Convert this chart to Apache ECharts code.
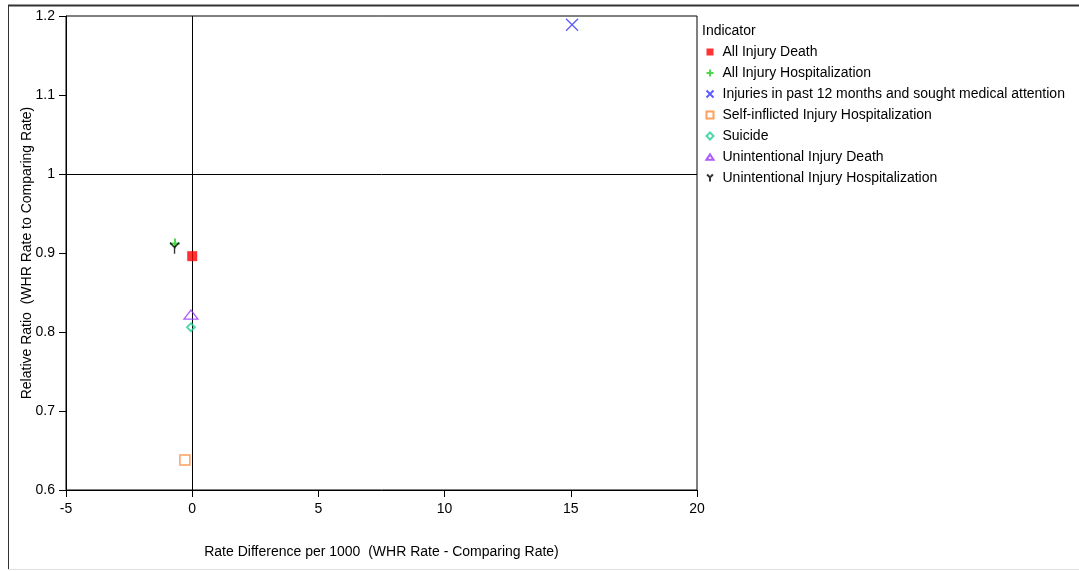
<!DOCTYPE html>
<html>
<head>
<meta charset="utf-8">
<script src="https://cdn.jsdelivr.net/npm/echarts@6/dist/echarts.min.js"></script>
<style>
  html, body { margin: 0; padding: 0; background: #fff; }
  #chart { width: 1079px; height: 571px; }
</style>
</head>
<body>
<div id="chart"></div>
<script>
// Indicators plotted: rate difference (x) against relative ratio (y)
const indicators = [
  'All Injury Death',
  'All Injury Hospitalization',
  'Injuries in past 12 months and sought medical attention',
  'Self-inflicted Injury Hospitalization',
  'Suicide',
  'Unintentional Injury Death',
  'Unintentional Injury Hospitalization'
];
const rateDifference = [0.0, -0.68, 15.05, -0.29, -0.05, -0.05, -0.7];
const relativeRatio = [0.896, 0.912, 1.189, 0.638, 0.806, 0.822, 0.906];

const xTicks = { min: -5, max: 20, interval: 5 };
const yTicks = { min: 0.6, max: 1.2, interval: 0.1 };
const refX = 0;
const refY = 1;

// Marker appearance per indicator
const markers = [
  { symbol: 'rect', size: 10, style: { color: '#ff0000' } },
  { symbol: 'path://M5,0L5,10M0,5L10,5', size: 10, style: { color: 'none', borderColor: '#22cc22', borderWidth: 2 } },
  { symbol: 'path://M0,0L10,10M10,0L0,10', size: 12, style: { color: 'none', borderColor: '#3333ff', borderWidth: 1.3 } },
  { symbol: 'rect', size: 10, style: { color: 'none', borderColor: '#ff8833', borderWidth: 1.5 } },
  { symbol: 'diamond', size: 8, style: { color: 'none', borderColor: '#22cc99', borderWidth: 1.8 } },
  { symbol: 'path://M0,9L6,0L12,9Z', size: [14, 9], style: { color: 'none', borderColor: '#9933ff', borderWidth: 1.3 } },
  { symbol: 'path://M0,0L5,5L10,0M5,5L5,12', size: [9, 11], style: { color: 'none', borderColor: '#000000', borderWidth: 1.5 } }
];

const series = indicators.map((name, i) => {
  const s = {
    name: name,
    type: 'scatter',
    symbol: markers[i].symbol,
    symbolSize: markers[i].size,
    itemStyle: markers[i].style,
    data: [[rateDifference[i], relativeRatio[i]]],
    z: 5
  };
  if (i === 0) {
    s.markLine = {
      silent: true,
      symbol: 'none',
      label: { show: false },
      lineStyle: { color: '#000', width: 1, type: 'solid' },
      data: [{ xAxis: refX }, { yAxis: refY }],
      z: 1
    };
  }
  return s;
});

const chart = echarts.init(document.getElementById('chart'), null, { renderer: 'canvas' });
const font = 'Arial, "Liberation Sans", sans-serif';
const fs = 14;

chart.setOption({
  animation: false,
  backgroundColor: '#fff',
  textStyle: { fontFamily: font },
  title: {
    text: 'Indicator',
    left: 702,
    top: 24,
    padding: 0,
    textStyle: { fontSize: fs, fontWeight: 'normal', color: '#000', fontFamily: font }
  },
  legend: {
    orient: 'vertical',
    left: 704,
    top: 45,
    itemWidth: 7,
    itemHeight: 7,
    itemGap: 7,
    padding: 0,
    textStyle: { fontSize: fs, color: '#000', fontFamily: font, padding: [0, 0, 0, 4] },
    data: indicators
  },
  grid: {
    left: 66,
    top: 16,
    right: 1079 - 697,
    bottom: 571 - 490,
    show: true,
    borderColor: '#000',
    borderWidth: 1,
    backgroundColor: 'transparent'
  },
  xAxis: {
    type: 'value',
    min: xTicks.min,
    max: xTicks.max,
    interval: xTicks.interval,
    name: 'Rate Difference per 1000  (WHR Rate - Comparing Rate)',
    nameLocation: 'middle',
    nameGap: 55,
    nameMoveOverlap: false,
    nameTextStyle: { fontSize: fs, color: '#000', fontFamily: font },
    axisLine: { onZero: false, lineStyle: { color: '#000' } },
    axisTick: { inside: false, length: 7, lineStyle: { color: '#000' } },
    axisLabel: { fontSize: fs, color: '#000', margin: 12 },
    splitLine: { show: false }
  },
  yAxis: {
    type: 'value',
    min: yTicks.min,
    max: yTicks.max,
    interval: yTicks.interval,
    name: 'Relative Ratio  (WHR Rate to Comparing Rate)',
    nameLocation: 'middle',
    nameGap: 32,
    nameMoveOverlap: false,
    nameTextStyle: { fontSize: fs, color: '#000', fontFamily: font },
    axisLine: { onZero: false, lineStyle: { color: '#000' } },
    axisTick: { inside: false, length: 7, lineStyle: { color: '#000' } },
    axisLabel: {
      fontSize: fs, color: '#000', margin: 11,
      formatter: v => String(Math.round(v * 10) / 10)
    },
    splitLine: { show: false }
  },
  graphic: [
    { type: 'line', shape: { x1: 8.5, y1: 5, x2: 8.5, y2: 569 }, style: { stroke: '#333', lineWidth: 1 } },
    { type: 'line', shape: { x1: 8, y1: 5.5, x2: 1079, y2: 5.5 }, style: { stroke: '#333', lineWidth: 2 } },
    { type: 'line', shape: { x1: 8, y1: 569.5, x2: 1079, y2: 569.5 }, style: { stroke: '#e0e0e0', lineWidth: 1 } }
  ],
  series: series
});
</script>
</body>
</html>
